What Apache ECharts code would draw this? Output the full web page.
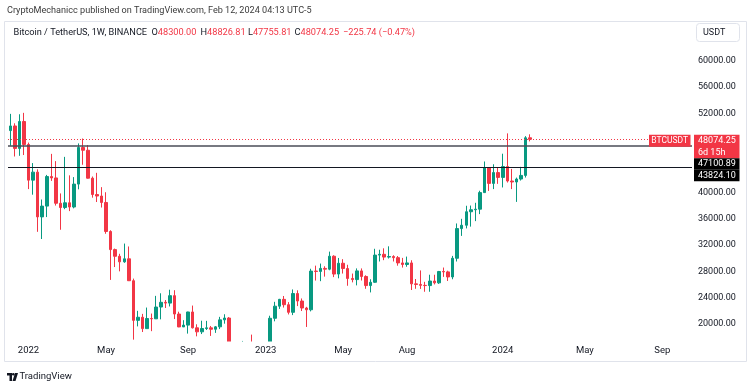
<!DOCTYPE html>
<html><head><meta charset="utf-8">
<script src="https://cdn.jsdelivr.net/npm/echarts@6/dist/echarts.min.js"></script>
<style>html,body{margin:0;padding:0;background:#fff}#c{width:750px;height:388px}</style>
</head><body><div id="c"></div>
<script>
// ---- data ----
const firstWeek = '2021-12-06';
const weekCount = 150;
const opens = [
49396,50098,46681,50775,47286,41864,43079,36276,37917,42407,
42200,38350,37699,38420,37780,41262,46827,46407,42158,39678,
39450,38468,34059,31305,30293,29445,29906,26575,20553,21027,
19297,20836,20786,22579,23296,23175,24305,21515,19555,19831,
21826,19419,18808,19312,19416,19204,19568,20627,20905,16330,
16280,16425,17105,17085,16742,16832,16625,17127,20871,22707,
23743,22930,21776,24630,23492,22430,22163,28038,27990,28450,
28330,30300,27590,29230,28430,26920,26750,28070,27220,25840,
26340,30470,30590,30170,30250,30080,29280,29040,29280,26100,
26010,25870,25840,26530,26250,27980,27920,27150,29990,34500,
35010,37060,37360,37450,39970,43780,41370,43010,42280,43930,
41730,41580,42030,42580,48300];
const closes = [
50098,46681,50775,47286,41864,43079,36276,37917,42407,42200,
38350,37699,38420,37780,41262,46827,46407,42158,39678,39450,
38468,34059,31305,30293,29445,29906,26575,20553,21027,19297,
20836,20786,22579,23296,23175,24305,21515,19555,19831,21826,
19419,18808,19312,19416,19204,19568,20627,20905,16330,16280,
16425,17105,17085,16742,16832,16625,17127,20871,22707,23743,
22930,21776,24630,23492,22430,22163,28038,27990,28450,28330,
30300,27590,29230,28430,26920,26750,28070,27220,25840,26340,
30470,30590,30170,30250,30080,29280,29040,29280,26100,26010,
25870,25840,26530,26250,27980,27920,27150,29990,34500,35010,
37060,37360,37450,39970,43780,41370,43010,42280,43930,41730,
41580,42030,42580,48300,48074.25];
const highs = [
51936,50500,51875,52088,47570,44458,43505,38919,42656,45855,
44751,39843,45400,42594,42325,47444,48189,47200,42414,42976,
40797,40023,34245,31460,30670,32222,31782,26898,22000,21539,
22500,21588,24276,24668,23647,25211,25135,21867,20580,21860,
22800,19956,20500,20475,19700,19698,21085,21480,21053,17190,
16812,17424,17300,18387,17061,16972,17176,21258,23371,23816,
24255,23325,25250,25121,23880,22603,28400,28868,29184,28775,
31000,30450,30036,29850,29000,27666,28450,28447,27400,26800,
31431,31284,31500,31804,30450,30330,30047,30244,29688,26838,
28142,26409,27488,27485,28066,28580,28100,30350,35280,35985,
37970,38000,38420,40250,44700,43800,44275,43800,45880,48969,
43570,42250,43880,48550,48826.81];
const lows = [
47100,45456,45558,45678,40501,39650,34008,32917,36250,41748,
38000,34322,37450,37155,37578,40467,44200,42107,39200,38536,
37702,33713,26700,28654,28000,29299,26560,17622,19636,18781,
19274,18910,20762,20706,22432,22664,20750,19520,19540,18540,
19320,18125,18471,19093,18190,18650,19226,20048,15588,15815,
15476,16050,16750,16257,16398,16333,16499,17089,20408,22292,
22500,21451,21351,22722,21971,19549,21918,26601,26508,27200,
28170,27125,26942,27666,25811,26327,25871,26606,25350,24800,
26250,29500,29700,29950,29500,28861,28576,28701,25166,25350,
25333,24900,24901,26011,26093,27160,26538,26800,29500,33390,
34527,34800,35632,36700,39970,40222,40500,41300,40750,41500,
40500,38555,41800,42258,47755.81];
const xTickDates = ['2022-01-03','2022-05-02','2022-09-05','2023-01-02','2023-05-01','2023-08-07','2024-01-01','2024-05-06','2024-09-02'];
const xTickLabels = ['2022','May','Sep','2023','May','Aug','2024','May','Sep'];
const yTickValues = [20000,24000,28000,32000,36000,40000,52000,56000,60000];
const lastPrice = 48074.25;
const levelGrey = 47100.89;
const levelBlack = 43824.10;
const ohlcHeader = {o:'48300.00', h:'48826.81', l:'47755.81', c:'48074.25', chg:'−225.74 (−0.47%)'};

// ---- build ----
const categories = [];
const d0 = new Date(firstWeek + 'T00:00:00Z');
for (let i = 0; i < weekCount; i++) {
  categories.push(new Date(d0.getTime() + i * 7 * 86400000).toISOString().slice(0, 10));
}
const candles = opens.map((o, i) => [o, closes[i], lows[i], highs[i]]);

const UP = '#089981', DOWN = '#F23645';
const FONT = 'Roboto';
const chart = echarts.init(document.getElementById('c'), null, {renderer: 'canvas'});

const option = {
  animation: false,
  backgroundColor: '#fff',
  grid: {left: 8, right: 58, top: 45, bottom: 47},
  xAxis: {
    type: 'category', data: categories, boundaryGap: true, z: 10,
    axisLine: {show: false}, axisTick: {show: false}, splitLine: {show: false},
    axisLabel: {
      interval: (i, v) => xTickDates.includes(v),
      formatter: v => { const k = xTickDates.indexOf(v); return k >= 0 ? xTickLabels[k] : ''; },
      color: '#131722', fontSize: 9.5, fontFamily: FONT, margin: 5
    }
  },
  yAxis: {
    type: 'value', position: 'right', min: 17416, max: 62401, z: 10,
    axisLine: {show: false}, axisTick: {show: false}, splitLine: {show: false},
    axisLabel: {customValues: yTickValues, formatter: v => v.toFixed(2), color: '#131722', fontSize: 9, fontFamily: FONT, margin: 6}
  },
  series: [{
    type: 'candlestick', data: candles, barWidth: 3, clip: true,
    itemStyle: {color: UP, color0: DOWN, borderColor: UP, borderColor0: DOWN, borderWidth: 1},
    markLine: {
      silent: true, symbol: 'none', label: {show: false}, animation: false,
      data: [
        {yAxis: lastPrice, lineStyle: {color: DOWN, type: [1, 2], width: 1}},
        {yAxis: levelGrey, lineStyle: {color: '#4a4d57', type: 'solid', width: 1.5}},
        {yAxis: levelBlack, lineStyle: {color: '#131722', type: 'solid', width: 1}}
      ]
    }
  }]
};
chart.setOption(option);

const py = chart.convertToPixel({yAxisIndex: 0}, lastPrice);
const top0 = py - 4.5;
const gridRect = chart.getModel().getComponent('grid', 0).coordinateSystem.getRect();
function txt(text, x, y, fill, size, extra) {
  return {type: 'text', z: 100, style: Object.assign({text, x, y, fill, fontSize: size, fontFamily: FONT,
    textVerticalAlign: 'middle', verticalAlign: 'middle', textAlign: 'left', align: 'left'}, extra || {})};
}
function ohlcPiece(k, v, x) {
  return {type: 'text', z: 100, style: {text: '{k|' + k + '}{v|' + v + '}', x, y: 32.5, textVerticalAlign: 'middle', verticalAlign: 'middle',
    rich: {k: {fill: '#131722', fontSize: 9.2, fontFamily: FONT}, v: {fill: DOWN, fontSize: 9.2, fontFamily: FONT}}}};
}
const g = [
  // mask below the plot so candles are cut at the plot edge
  {type: 'rect', z: 3, shape: {x: gridRect.x, y: gridRect.y + gridRect.height + 0.5, width: gridRect.width, height: 18}, style: {fill: '#fff'}},
  // frame
  {type: 'rect', z: 4, shape: {x: 4.5, y: 21.5, width: 742, height: 340}, style: {fill: 'none', stroke: '#e0e3eb', lineWidth: 1}},
  txt('CryptoMechanicc published on TradingView.com, Feb 12, 2024 04:13 UTC-5', 7, 11, '#3a3a3a', 9.1),
  txt('Bitcoin / TetherUS, 1W, BINANCE', 13.5, 32.5, '#131722', 9.2),
  ohlcPiece('O', ohlcHeader.o, 151.5),
  ohlcPiece('H', ohlcHeader.h, 200.5),
  ohlcPiece('L', ohlcHeader.l, 248),
  ohlcPiece('C', ohlcHeader.c, 294.5),
  txt(ohlcHeader.chg, 343, 32.5, DOWN, 9.2),
  // USDT box
  {type: 'rect', z: 100, shape: {x: 696.5, y: 23.5, width: 43, height: 18, r: 3}, style: {fill: '#fff', stroke: '#e0e3eb', lineWidth: 1}},
  txt('USDT', 703, 33, '#131722', 9),
  // price tags
  {type: 'rect', z: 100, shape: {x: 649, y: top0, width: 41.5, height: 12}, style: {fill: DOWN}},
  txt('BTCUSDT', 669.75, top0 + 6, '#fff', 8.5, {textAlign: 'center', align: 'center'}),
  {type: 'rect', z: 100, shape: {x: 694, y: top0, width: 45.5, height: 23.5}, style: {fill: DOWN}},
  txt(lastPrice.toFixed(2), 698, top0 + 6, '#fff', 9),
  txt('6d 15h', 698, top0 + 17.5, '#fff', 9),
  {type: 'rect', z: 100, shape: {x: 694, y: top0 + 23.5, width: 45.5, height: 11.5}, style: {fill: '#000'}},
  txt(levelGrey.toFixed(2), 698, top0 + 29.3, '#fff', 9),
  {type: 'rect', z: 100, shape: {x: 694, y: top0 + 35, width: 45.5, height: 11.5}, style: {fill: '#000'}},
  txt(levelBlack.toFixed(2), 698, top0 + 40.8, '#fff', 9),
  // TradingView logo
  {type: 'rect', z: 100, shape: {x: 7, y: 373, width: 5, height: 2.5}, style: {fill: '#131722'}},
  {type: 'rect', z: 100, shape: {x: 9.5, y: 373, width: 2.5, height: 8}, style: {fill: '#131722'}},
  {type: 'circle', z: 100, shape: {cx: 13.3, cy: 374.3, r: 1.3}, style: {fill: '#131722'}},
  {type: 'polygon', z: 100, shape: {points: [[15, 373], [18, 373], [15.5, 381], [12.5, 381]]}, style: {fill: '#131722'}},
  txt('TradingView', 19.5, 377, '#131722', 9.5)
];
chart.setOption({graphic: g});
</script></body></html>
